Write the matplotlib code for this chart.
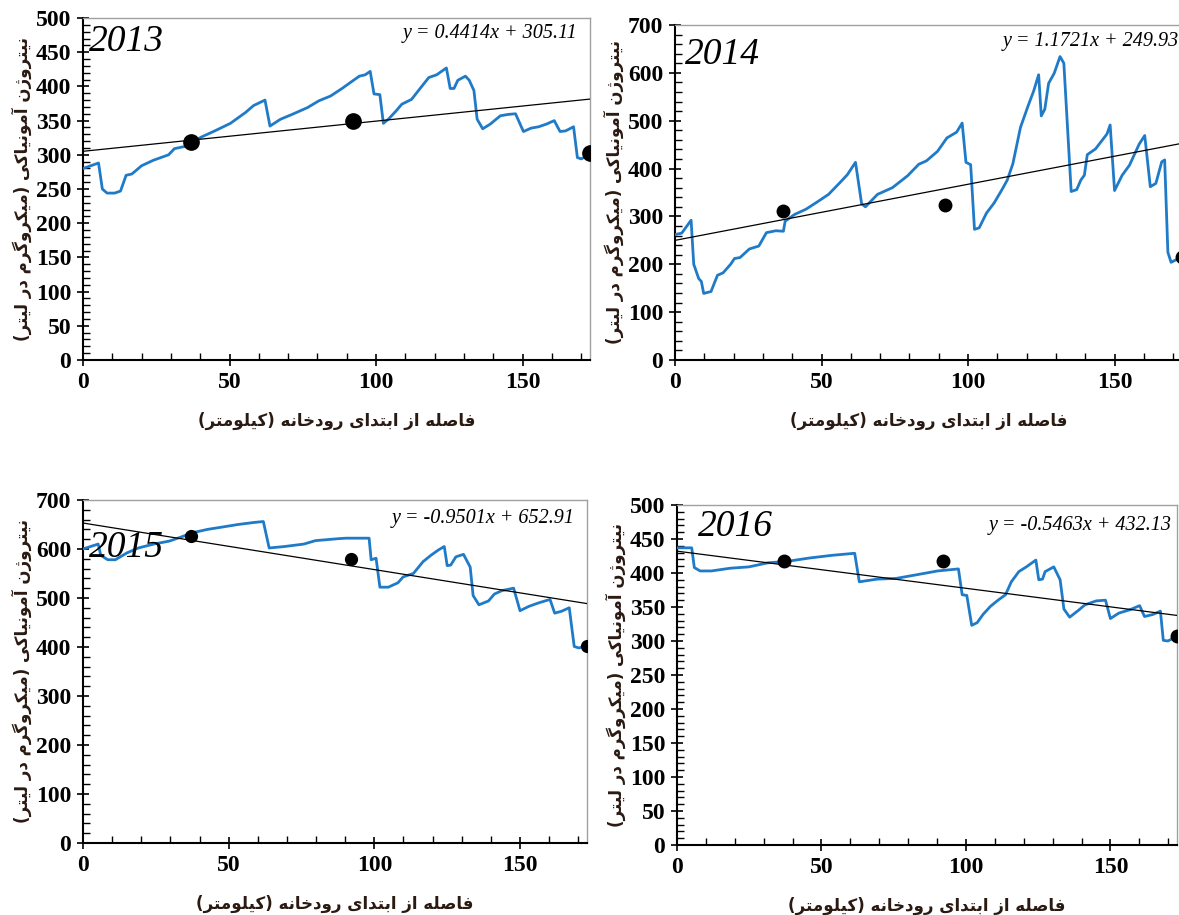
import matplotlib
matplotlib.use("Agg")
import matplotlib.pyplot as plt
from matplotlib.ticker import MultipleLocator

# ---- data ----
years = ["2013", "2014", "2015", "2016"]

x_2013 = [0, 5.3, 6.6, 8.2, 10.8, 12.8, 14.7, 16.7, 20, 24, 29.2, 31.2, 34.5, 37.1, 40.4, 45, 50.3,
          55.5, 58.2, 62.1, 63.8, 67.4, 71.3, 76.6, 80.5, 84.5, 88.4, 91, 94.3, 96.3, 98, 99.3,
          101.3, 102.5, 104.2, 106.8, 108.8, 112.1, 115.4, 118, 120.7, 124, 125.3, 126.6, 127.9,
          130.5, 131.8, 133.4, 134.5, 136.4, 139, 142.4, 145, 147.6, 150.3, 152.9, 155.5, 158.2,
          160.8, 162.8, 164.7, 167.4, 168.7, 170, 172.6, 174.6]
y_2013 = [280, 288, 250, 244, 244, 247, 270, 272, 284, 292, 300, 309, 312, 318, 326, 335, 346,
          362, 372, 380, 342, 352, 359, 369, 379, 386, 397, 405, 415, 417, 422, 389,
          388, 346, 352, 364, 374, 381, 399, 413, 417, 427, 397, 397, 409,
          415, 409, 394, 352, 338, 345, 357, 359, 360, 334, 339, 341, 345,
          350, 334, 335, 341, 296, 294, 300, 301]

x_2014 = [0, 2.3, 5.5, 6.4, 8.1, 9, 9.8, 12.3, 14.5, 16.4, 19, 20.3, 22.2, 25.4, 28.6, 31.2, 34.4,
          37, 37.6, 40.8, 44.7, 48.5, 52.4, 56.2, 58.8, 61.6, 63.7, 65, 69.1, 74.2, 79.4, 83.2,
          85.8, 89.6, 92.8, 96.1, 98, 99.3, 100.9, 102.2, 103.8, 106.3, 108.9, 111.5, 113.4,
          115.3, 117.9, 120.5, 122.4, 124.1, 125, 126.2, 127.5, 129.4, 131.4, 132.7, 135.2,
          137.1, 138.5, 139.7, 140.7, 143.5, 147.4, 148.5, 150, 152.6, 155.1, 158.4, 160.3,
          162.2, 164.1, 166.1, 167.1, 168.2, 169.3, 171.2, 173]
y_2014 = [262, 265, 292, 200, 170, 164, 139, 143, 177, 182, 200, 212, 214, 232, 238, 266, 270,
          269, 290, 304, 315, 330, 346, 370, 387, 413, 326, 320, 346, 360, 385, 409,
          416, 436, 464, 476, 495, 413, 408, 273, 276, 307, 328, 355, 376,
          410, 486, 531, 562, 596, 510, 524, 578, 599, 634, 620, 352,
          356, 376, 386, 429, 441, 472, 491, 354, 386, 407, 451, 469,
          362, 369, 414, 418, 225, 204, 210, 214]

x_2015 = [0, 5.2, 6.1, 8.5, 11.1, 15.1, 19, 24.3, 29.6, 33.5, 37.5, 42.8, 48.1, 53.3, 58.6, 61.9,
          63.9, 69.2, 75.8, 79.8, 87.7, 90.3, 98.2, 98.9, 100.6, 101.9, 104.8, 108.1, 109.9,
          113.4, 116.7, 119.4, 122, 124, 125, 126.2, 128, 130.6, 132.9, 133.9, 135.9, 139.2,
          141.2, 143.8, 147.8, 150, 153.1, 156.4, 160.3, 161.9, 164.3, 166.9, 168.6, 170.2, 174.2]
y_2015 = [600, 610, 587, 578, 578, 592, 602, 610, 616, 624, 633, 640, 645, 650, 654, 656,
          602, 605, 610, 617, 621, 622, 622, 578, 581, 522, 522, 531, 543,
          550, 574, 587, 598, 605, 566, 567, 584, 589, 563, 505, 486, 494,
          508, 515, 520, 474, 483, 490, 497, 469, 473, 480, 401, 398, 405]

x_2016 = [0, 5.1, 6, 8, 11.9, 18.4, 24.9, 31.5, 38, 45.8, 53.7, 61.5, 63.1, 69.3, 75.8, 82.4,
          90.2, 97.4, 98.7, 100.3, 102, 103.9, 105.9, 108.5, 111.1, 113.7, 115.7, 118.3, 120.9,
          124.2, 125.2, 126.5, 127.4, 130.4, 132.6, 133.9, 135.9, 139.2, 141.1, 145.1, 148.3,
          150, 152.9, 156.8, 160.1, 161.8, 164.7, 167.3, 168.3, 169.9, 173.1]
y_2016 = [437, 437, 408, 403, 403, 407, 409, 415, 417, 422, 426, 429, 387, 391, 392, 397,
          403, 406, 368, 367, 323, 327, 339, 351, 360, 368, 387, 402, 409,
          419, 390, 391, 402, 409, 390, 347, 335, 346, 353, 359, 360,
          333, 341, 346, 352, 336, 339, 344, 301, 300, 307]

station_x = [37, 92, 173]
station_y = {
    "2013": [318, 349, 302],
    "2014": [311, 324, 215],
    "2015": [627, 580, 403],
    "2016": [418, 418, 307],
}

slopes = [0.4414, 1.1721, -0.9501, -0.5463]
intercepts = [305.11, 249.93, 652.91, 432.13]

y_max = [500, 700, 700, 500]
x_max = 173

lines_x = [x_2013, x_2014, x_2015, x_2016]
lines_y = [y_2013, y_2014, y_2015, y_2016]

# ---- simple Persian shaping (matplotlib has no RTL / joining support) ----
FORMS = {
    'ا': ('\uFE8D', '\uFE8E', None, None),
    'آ': ('\uFE81', '\uFE82', None, None),
    'د': ('\uFEA9', '\uFEAA', None, None),
    'ر': ('\uFEAD', '\uFEAE', None, None),
    'ز': ('\uFEAF', '\uFEB0', None, None),
    'ژ': ('\uFB8A', '\uFB8B', None, None),
    'و': ('\uFEED', '\uFEEE', None, None),
    'ب': ('\uFE8F', '\uFE90', '\uFE91', '\uFE92'),
    'ت': ('\uFE95', '\uFE96', '\uFE97', '\uFE98'),
    'خ': ('\uFEA5', '\uFEA6', '\uFEA7', '\uFEA8'),
    'ص': ('\uFEB9', '\uFEBA', '\uFEBB', '\uFEBC'),
    'ف': ('\uFED1', '\uFED2', '\uFED3', '\uFED4'),
    'ل': ('\uFEDD', '\uFEDE', '\uFEDF', '\uFEE0'),
    'م': ('\uFEE1', '\uFEE2', '\uFEE3', '\uFEE4'),
    'ن': ('\uFEE5', '\uFEE6', '\uFEE7', '\uFEE8'),
    'ه': ('\uFEE9', '\uFEEA', '\uFEEB', '\uFEEC'),
    'ک': ('\uFB8E', '\uFB8F', '\uFB90', '\uFB91'),
    'گ': ('\uFB92', '\uFB93', '\uFB94', '\uFB95'),
    'ی': ('\uFBFC', '\uFBFD', '\uFBFE', '\uFBFF'),
}


def fa(text):
    out = []
    for i, ch in enumerate(text):
        if ch not in FORMS:
            out.append(ch)
            continue
        prev = text[i - 1] if i > 0 else ''
        nxt = text[i + 1] if i + 1 < len(text) else ''
        iso, fin, ini, med = FORMS[ch]
        jp = prev in FORMS and FORMS[prev][2] is not None
        jn = ini is not None and nxt in FORMS
        if jp and jn:
            out.append(med)
        elif jp:
            out.append(fin)
        elif jn:
            out.append(ini)
        else:
            out.append(iso)
    s = ''.join(out)[::-1]
    return s.translate(str.maketrans('()', ')('))


xlabel = fa("فاصله از ابتدای رودخانه (کیلومتر)")
ylabel = fa("نیتروژن آمونیاکی (میکروگرم در لیتر)")

# ---- figure ----
fig = plt.figure(figsize=(11.79, 9.15), dpi=100)
positions = [
    [0.0704, 0.6066, 0.4300, 0.3737],
    [0.5725, 0.6066, 0.4300, 0.3661],
    [0.0704, 0.0787, 0.4275, 0.3749],
    [0.5742, 0.0765, 0.4240, 0.3716],
]
year_pos = [(0.012, 0.93), (0.020, 0.91), (0.012, 0.86), (0.042, 0.935)]
eq_pos = [(0.975, 0.955), (0.995, 0.95), (0.975, 0.945), (0.99, 0.94)]
dot_size = [11, 9, 8.5, 9]

blue = '#1f7bc8'
label_color = '#2a1a12'

for i, yr in enumerate(years):
    ax = fig.add_axes(positions[i])
    ax.plot(lines_x[i], lines_y[i], color=blue, lw=2.0, zorder=3)
    xs = [0, x_max]
    ax.plot(xs, [intercepts[i] + slopes[i] * v for v in xs], color='black', lw=0.9, zorder=4)
    ax.plot(station_x, station_y[yr], 'o', color='black', ms=dot_size[i], zorder=5)

    ax.set_xlim(0, x_max)
    ax.set_ylim(0, y_max[i])
    ax.xaxis.set_major_locator(MultipleLocator(50))
    ax.xaxis.set_minor_locator(MultipleLocator(10))
    if y_max[i] == 500:
        ax.yaxis.set_major_locator(MultipleLocator(50))
        ax.yaxis.set_minor_locator(MultipleLocator(10))
    else:
        ax.yaxis.set_major_locator(MultipleLocator(100))
        ax.yaxis.set_minor_locator(MultipleLocator(20))

    ax.tick_params(which='major', direction='inout', length=9, width=1.2, pad=4)
    ax.tick_params(which='minor', direction='in', length=5, width=1.0)
    for lab in ax.get_xticklabels() + ax.get_yticklabels():
        lab.set_fontfamily('Liberation Serif')
        lab.set_fontweight('bold')
        lab.set_fontsize(17)

    for side in ['left', 'bottom']:
        ax.spines[side].set_linewidth(1.5)
        ax.spines[side].set_color('black')
    for side in ['top', 'right']:
        ax.spines[side].set_linewidth(1.0)
        ax.spines[side].set_color('#a0a0a0')

    ax.set_xlabel(xlabel, family='DejaVu Sans', fontweight='bold', fontsize=12,
                  color=label_color, labelpad=14)
    ax.set_ylabel(ylabel, family='DejaVu Sans', fontweight='bold', fontsize=12,
                  color=label_color, labelpad=3)

    ax.text(year_pos[i][0], year_pos[i][1], yr, transform=ax.transAxes,
            family='Liberation Serif', style='italic', fontsize=27, va='center', ha='left', zorder=6)
    sign = '+' if intercepts[i] >= 0 else '-'
    eq = f"y = {slopes[i]:.4f}x {sign} {abs(intercepts[i]):.2f}"
    ax.text(eq_pos[i][0], eq_pos[i][1], eq, transform=ax.transAxes,
            family='Liberation Serif', style='italic', fontsize=14.5, va='center', ha='right', zorder=6)

fig.savefig('out.png', dpi=100)
